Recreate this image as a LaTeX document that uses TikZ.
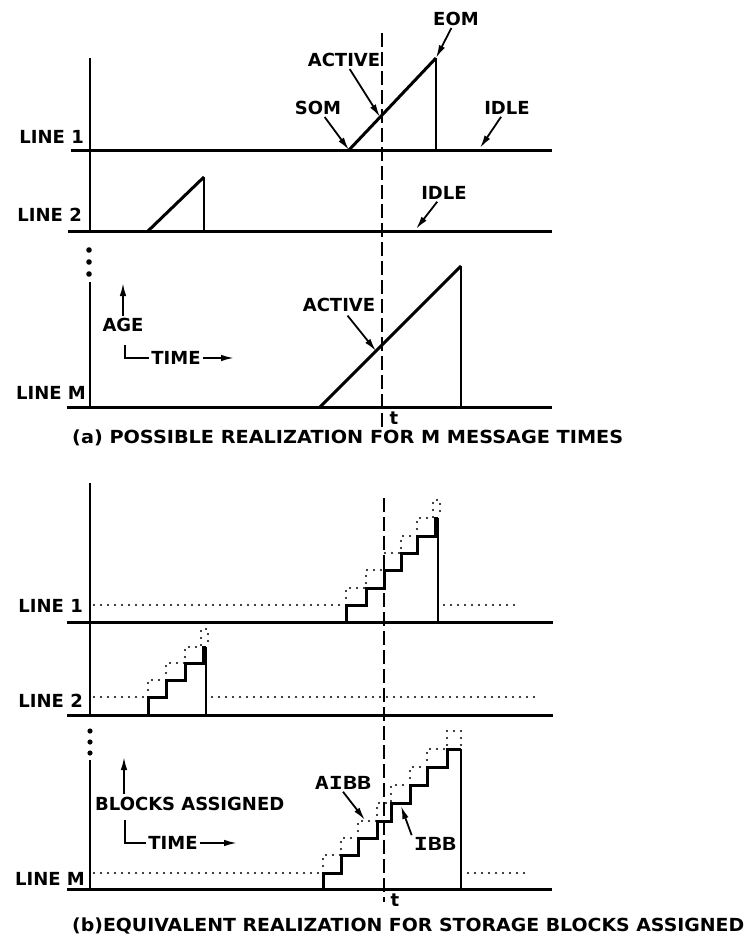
\documentclass[tikz,border=0pt]{standalone}
\usepackage{fontspec}
\setmainfont{DejaVu Sans}
\newfontfamily\monolabel{DejaVu Sans Mono}
\usetikzlibrary{arrows.meta,positioning}

\begin{document}
\begin{tikzpicture}[x=1pt,y=-1pt,>={Latex[length=13pt,width=6.5pt]},
  lbl/.style={inner sep=2pt,font=\fontsize{18}{20}\selectfont\bfseries},
  linelbl/.style={lbl,anchor=east,inner sep=0pt},
  tlbl/.style={inner sep=0pt,font=\fontsize{18}{18}\selectfont\bfseries},
  caption/.style={inner sep=0pt,anchor=west,font=\fontsize{18}{20}\selectfont\bfseries},
  gridline/.style={line width=3pt},
  axisline/.style={line width=2.6pt},
  ramp/.style={line width=3pt},
  dropline/.style={line width=2.2pt},
  nowline/.style={line width=1.5pt,dash pattern=on 14pt off 5pt},
  idledots/.style={line width=2.4pt,line cap=round,dash pattern=on 0pt off 7pt},
  stairs/.style={line width=3pt,line join=miter},
  pointer/.style={->,line width=1.8pt}]
\useasboundingbox (0,0) rectangle (749,940);

% ---------- (a) message times ----------
\draw[axisline] (90,58) -- (90,231);
\draw[axisline] (90,282) -- (90,407);
\fill (89,250) circle (2.8pt);
\fill (89,262) circle (2.8pt);
\fill (89,274) circle (2.8pt);
\draw[gridline] (71,150) -- (552,150);
\draw[gridline] (68,231) -- (552,231);
\draw[gridline] (67,407) -- (552,407);
\draw[nowline] (382,33) -- (382,427);

\node[linelbl] (lineA1) at (84,137) {LINE 1};
\node[linelbl] (lineA2) at (82,215) {LINE 2};
\node[linelbl] (lineAM) at (86,393) {LINE M};
\node[tlbl] (tA) at (394,418) {t};

% message on line 1
\coordinate (som1) at (349,150);
\coordinate (top1) at (436,58);
\coordinate (eom1) at (436,150);
\draw[ramp] (som1) -- (top1);
\draw[dropline] (top1) -- (eom1);
% message on line 2
\coordinate (som2) at (148,231);
\coordinate (top2) at (204,177);
\coordinate (eom2) at (204,231);
\draw[ramp] (som2) -- (top2);
\draw[dropline] (top2) -- (eom2);
% message on line M
\coordinate (somM) at (320,407);
\coordinate (topM) at (461,266);
\coordinate (eomM) at (461,407);
\draw[ramp] (somM) -- (topM);
\draw[dropline] (topM) -- (eomM);

\node[lbl] (som) at (318,108) {SOM};
\node[lbl] (active1) at (344,60) {ACTIVE};
\node[lbl] (eom) at (456,19) {EOM};
\node[lbl] (idle1) at (507,108) {IDLE};
\node[lbl] (idle2) at (444,193) {IDLE};
\node[lbl] (activeM) at (339,305) {ACTIVE};
\coordinate (activetip1) at (380,117);
\coordinate (idletip1) at (480,148);
\coordinate (idletip2) at (416,229);
\coordinate (activetipM) at (376,351);
\draw[pointer] (som) -- (som1);
\draw[pointer] (active1) -- (activetip1);
\draw[pointer] (eom) -- (top1);
\draw[pointer] (idle1) -- (idletip1);
\draw[pointer] (idle2) -- (idletip2);
\draw[pointer,shorten <=2pt] (activeM) -- (activetipM);

% age / time key
\node[lbl] (age) at (123,325) {AGE};
\coordinate (agetip) at (123,283);
\draw[pointer] (age.north) -- (agetip);
\node[lbl] (timeA) at (176,358) {TIME};
\coordinate (timetipA) at (234,358);
\draw[line width=1.8pt] (125,345) |- (timeA.west);
\draw[pointer] (timeA.east) -- (timetipA);

\node[caption] (capA) at (72,438) {\scalebox{1.07}[1]{(a) POSSIBLE REALIZATION FOR M MESSAGE TIMES}};

% ---------- (b) storage blocks ----------
\draw[axisline] (90,483) -- (90,715);
\draw[axisline] (90,760) -- (90,889);
\fill (90,731) circle (2.6pt);
\fill (90,742) circle (2.6pt);
\fill (90,753) circle (2.6pt);
\draw[gridline] (67,622) -- (553,622);
\draw[gridline] (67,715) -- (553,715);
\draw[gridline] (67,889) -- (552,889);
\draw[nowline] (384,498) -- (384,902);

\node[linelbl] (lineB1) at (83,606) {LINE 1};
\node[linelbl] (lineB2) at (83,701) {LINE 2};
\node[linelbl] (lineBM) at (85,879) {LINE M};
\node[tlbl] (tB) at (395,900) {t};

% idle levels
\draw[idledots] (94,605) -- (346,605);
\draw[idledots] (444,605) -- (521,605);
\draw[idledots] (94,697) -- (148,697);
\draw[idledots] (212,697) -- (540,697);
\draw[idledots] (94,873) -- (323,873);
\draw[idledots] (468,873) -- (526,873);

% line 1 blocks
\draw[stairs] (346,622) -- (346,605) -- (366,605) -- (366,588) -- (384,588)
  -- (384,570) -- (401,570) -- (401,553) -- (417,553) -- (417,536)
  -- (435,536) -- (435,518) -- (438,518);
\draw[dropline] (438,518) -- (438,622);
\draw[idledots] (346,605) -- (346,588) -- (366,588) -- (366,570) -- (384,570)
  -- (384,553) -- (401,553) -- (401,536) -- (417,536) -- (417,518)
  -- (433,518) -- (433,500) -- (440,500) -- (440,518);
% line 2 blocks
\draw[stairs] (148,715) -- (148,697) -- (166,697) -- (166,680) -- (185,680)
  -- (185,663) -- (203,663) -- (203,647) -- (206,647);
\draw[dropline] (206,647) -- (206,715);
\draw[idledots] (148,697) -- (148,680) -- (166,680) -- (166,663) -- (185,663)
  -- (185,647) -- (201,647) -- (201,629) -- (208,629) -- (208,647);
% line M blocks
\draw[stairs] (323,889) -- (323,873) -- (341,873) -- (341,855) -- (358,855)
  -- (358,838) -- (377,838) -- (377,821) -- (391,821) -- (391,803)
  -- (410,803) -- (410,785) -- (427,785) -- (427,767) -- (447,767)
  -- (447,749) -- (461,749);
\draw[dropline] (461,749) -- (461,889);
\draw[idledots] (323,873) -- (323,855) -- (341,855) -- (341,838) -- (358,838)
  -- (358,821) -- (377,821) -- (377,803) -- (391,803) -- (391,785)
  -- (410,785) -- (410,767) -- (427,767) -- (427,749) -- (447,749)
  -- (447,731) -- (461,731) -- (461,749);

\node[lbl] (aibb) at (343,783) {\scalebox{1.3}[1]{\monolabel\bfseries AIBB}};
\node[lbl] (ibb) at (435,844) {\scalebox{1.3}[1]{\monolabel\bfseries IBB}};
\coordinate (aibbtip) at (365,820);
\coordinate (ibbtip) at (401,806);
\draw[pointer] (aibb.south) -- (aibbtip);
\draw[pointer] (ibb.north west) -- (ibbtip);

% blocks / time key
\node[lbl,anchor=west,inner sep=0pt] (blocks) at (95,804) {BLOCKS ASSIGNED};
\coordinate (blockstip) at (124,757);
\draw[pointer,shorten <=3pt] (blocks.north west -| blockstip) -- (blockstip);
\node[lbl] (timeB) at (173,843) {TIME};
\coordinate (timetipB) at (237,843);
\draw[line width=1.8pt] (125,820) |- (timeB.west);
\draw[pointer] (timeB.east) -- (timetipB);

\node[caption] (capB) at (72,926) {\scalebox{1.05}[1]{(b)EQUIVALENT REALIZATION FOR STORAGE BLOCKS ASSIGNED}};
\end{tikzpicture}
\end{document}
